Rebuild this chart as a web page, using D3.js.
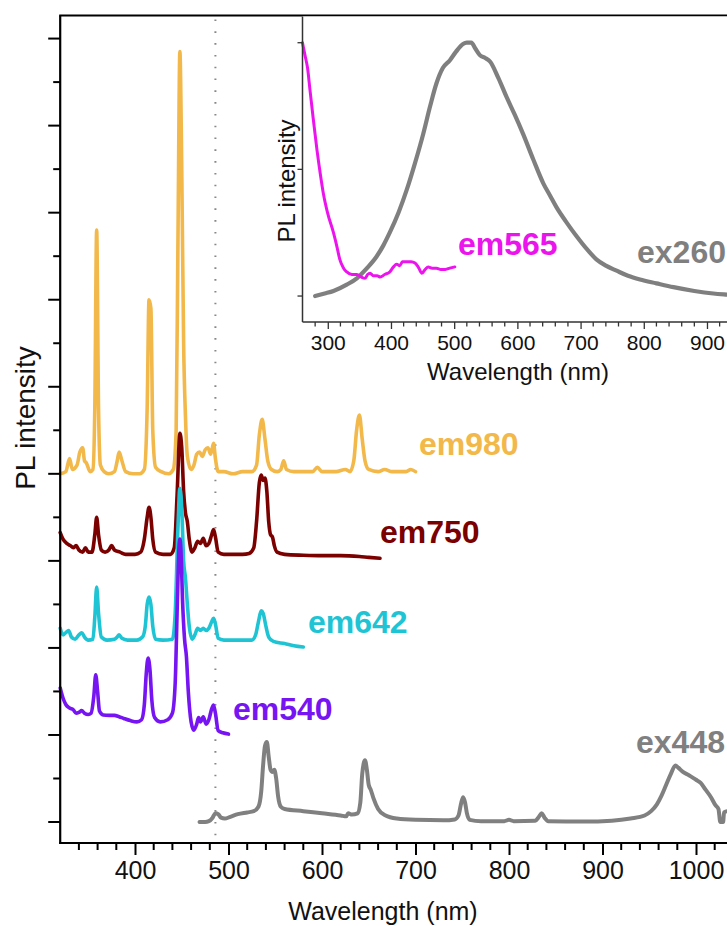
<!DOCTYPE html>
<html><head><meta charset="utf-8">
<script src="https://cdn.jsdelivr.net/npm/d3@7"></script>
<style>html,body{margin:0;padding:0;background:#fff;overflow:hidden}</style>
</head><body>
<script>
// ---------- DATA ----------
const xTickValues = [400, 500, 600, 700, 800, 900, 1000];
const insetXTickValues = [300, 400, 500, 600, 700, 800, 900];
const insetYTickValues = [0, 1, 2];
const dottedLineNm = 486;

const seriesNames = ["ex448", "em980", "em750", "em642", "em540"];

const ex448 = [[469,0.0],[475,0.0],[479,0.02],[483,0.1],[486,0.2],[489,0.18],[492,0.1],[496,0.08],[502,0.12],[510,0.18],[520,0.22],[527,0.25],[532,0.35],[535,0.7],[537,1.3],[539,1.75],[541,1.84],[543,1.5],[545,1.2],[547,1.15],[549,1.2],[551,1.0],[553,0.6],[556,0.35],[560,0.3],[580,0.25],[600,0.2],[620,0.15],[626,0.13],[628,0.2],[632,0.17],[638,0.2],[641,0.45],[643,1.1],[646,1.42],[648,1.2],[650,0.85],[652,0.75],[655,0.55],[660,0.3],[668,0.15],[680,0.08],[700,0.05],[730,0.04],[742,0.06],[746,0.15],[749,0.45],[751,0.57],[753,0.45],[755,0.2],[758,0.05],[770,0.02],[795,0.02],[800,0.05],[805,0.02],[828,0.03],[832,0.12],[835,0.2],[838,0.1],[842,0.02],[880,0.01],[910,0.03],[930,0.08],[945,0.15],[952,0.25],[958,0.4],[963,0.6],[968,0.85],[973,1.1],[978,1.3],[981,1.25],[986,1.15],[992,1.08],[1000,0.97],[1005,0.9],[1010,0.75],[1016,0.57],[1021,0.38],[1024,0.3],[1026,0.0],[1029,0.0],[1030,0.22],[1034,0.25],[1040,0.25]];

const em980 = [[320,8.0],[326,8.05],[330,8.35],[333,8.1],[338,8.2],[341,8.5],[344,8.6],[346,8.3],[348,8.25],[352,8.05],[355,8.1],[357,9.5],[359,13.6],[361,9.5],[363,8.2],[367,8.05],[372,8.0],[378,8.05],[381,8.3],[383,8.5],[386,8.3],[390,8.05],[398,8.0],[405,8.0],[410,8.1],[413,9.5],[415,12.0],[417,11.8],[419,9.0],[422,8.15],[428,8.05],[436,8.0],[441,8.1],[444,9.0],[446,13.5],[448,17.7],[450,15.0],[452,11.0],[454,9.3],[456,8.4],[460,8.1],[463,8.2],[466,8.45],[469,8.5],[472,8.4],[475,8.55],[478,8.6],[481,8.45],[484,8.7],[486,8.35],[489,8.05],[495,8.05],[505,8.0],[515,8.05],[525,8.05],[530,8.2],[533,8.9],[536,9.25],[539,8.8],[542,8.3],[546,8.1],[552,8.05],[556,8.1],[559,8.3],[562,8.1],[570,8.05],[580,8.05],[590,8.05],[595,8.15],[600,8.05],[615,8.05],[625,8.1],[630,8.05],[634,8.3],[637,9.0],[640,9.35],[643,8.8],[646,8.3],[650,8.1],[660,8.05],[667,8.1],[675,8.05],[690,8.05],[695,8.1],[700,8.05]];

const em750 = [[320,6.65],[323,6.5],[327,6.4],[331,6.35],[334,6.3],[337,6.35],[340,6.25],[344,6.2],[347,6.3],[350,6.2],[354,6.2],[357,6.6],[359,7.0],[361,6.6],[364,6.25],[368,6.2],[372,6.25],[375,6.35],[378,6.25],[384,6.2],[390,6.15],[400,6.15],[406,6.2],[410,6.5],[413,7.0],[415,7.23],[417,7.0],[419,6.5],[422,6.2],[430,6.15],[438,6.15],[442,6.3],[445,7.5],[448,8.93],[450,8.6],[452,7.6],[454,7.1],[456,6.9],[458,6.5],[461,6.2],[464,6.3],[467,6.45],[470,6.4],[473,6.52],[476,6.35],[479,6.4],[482,6.6],[484,6.72],[486,6.55],[489,6.2],[495,6.15],[505,6.15],[515,6.15],[522,6.17],[527,6.3],[530,6.9],[533,7.8],[535,7.97],[537,7.85],[539,7.9],[541,7.6],[543,6.9],[545,6.6],[547,6.55],[549,6.35],[552,6.2],[560,6.15],[580,6.13],[600,6.12],[620,6.12],[640,6.1],[650,6.08],[662,6.06]];

const em642 = [[320,4.45],[323,4.3],[326,4.35],[329,4.4],[332,4.25],[336,4.2],[340,4.3],[343,4.35],[346,4.25],[350,4.18],[355,4.2],[357,4.7],[359,5.4],[361,4.8],[364,4.25],[370,4.18],[378,4.2],[381,4.25],[383,4.3],[386,4.22],[392,4.18],[402,4.18],[408,4.25],[411,4.5],[413,5.0],[415,5.17],[417,5.0],[419,4.5],[422,4.2],[430,4.18],[440,4.2],[443,4.8],[446,6.8],[448,7.67],[450,7.2],[452,6.0],[454,5.6],[456,5.0],[458,4.5],[461,4.2],[464,4.3],[467,4.45],[470,4.4],[473,4.45],[476,4.4],[479,4.45],[482,4.6],[484,4.68],[486,4.55],[489,4.22],[495,4.18],[510,4.18],[525,4.18],[529,4.3],[532,4.6],[535,4.85],[537,4.8],[540,4.5],[543,4.25],[548,4.15],[560,4.1],[570,4.05],[580,4.02]];

const em540 = [[320,3.08],[323,2.85],[326,2.7],[330,2.62],[334,2.58],[337,2.5],[340,2.52],[343,2.56],[346,2.5],[350,2.47],[353,2.5],[356,2.9],[358,3.38],[360,3.0],[362,2.55],[366,2.46],[372,2.45],[378,2.45],[383,2.42],[388,2.38],[395,2.33],[402,2.3],[407,2.35],[410,2.7],[412,3.4],[414,3.77],[416,3.5],[418,2.8],[421,2.4],[427,2.3],[435,2.35],[440,2.5],[443,3.2],[445,4.8],[447,6.3],[448,6.5],[449,6.3],[451,5.0],[453,4.2],[455,3.8],[457,3.0],[460,2.3],[463,2.11],[466,2.25],[468,2.4],[470,2.3],[473,2.42],[476,2.25],[479,2.35],[482,2.6],[484,2.69],[486,2.5],[489,2.1],[494,2.05],[500,2.02]];

const ex260 = [[280,0.0],[295,0.02],[309,0.04],[330,0.09],[346,0.14],[362,0.22],[377,0.31],[388,0.4],[398,0.5],[412,0.66],[425,0.84],[438,1.05],[451,1.28],[462,1.5],[472,1.68],[482,1.8],[493,1.86],[503,1.93],[514,1.99],[520,2.0],[527,2.0],[534,1.95],[541,1.9],[549,1.88],[557,1.85],[570,1.72],[583,1.57],[596,1.43],[609,1.28],[625,1.08],[641,0.89],[652,0.79],[662,0.7],[678,0.58],[694,0.47],[710,0.37],[725,0.29],[740,0.24],[757,0.2],[775,0.16],[794,0.13],[820,0.1],[847,0.07],[880,0.04],[910,0.02],[935,0.01],[960,0.0]];

const em565 = [[260,2.0],[264,1.9],[268,1.8],[272,1.62],[277,1.4],[283,1.15],[288,0.97],[293,0.81],[300,0.65],[309,0.5],[314,0.4],[319,0.29],[325,0.22],[330,0.19],[338,0.17],[346,0.17],[353,0.15],[359,0.14],[363,0.17],[367,0.18],[372,0.16],[378,0.16],[383,0.15],[390,0.17],[398,0.19],[404,0.23],[409,0.25],[414,0.24],[418,0.27],[425,0.27],[432,0.27],[438,0.26],[443,0.23],[449,0.18],[454,0.21],[459,0.23],[465,0.22],[472,0.22],[479,0.21],[486,0.21],[493,0.22],[501,0.23]];

const colors = {ex448:"#808080", em980:"#f2b84a", em750:"#7b0000", em642:"#1fc4d4", em540:"#7614f2", ex260:"#7f7f7f", em565:"#ec14ec"};
const seriesData = {ex448, em980, em750, em642, em540};
const labelText = {ex448:"ex448", em980:"em980", em750:"em750", em642:"em642", em540:"em540"};

// ---------- CHART ----------
const W = 727, H = 926;
const FONT = "'Liberation Sans', Arial, Helvetica, sans-serif";
const svg = d3.select("body").append("svg").attr("width", W).attr("height", H)
  .style("font-family", FONT);

const plotLeft = 60.2, plotTop = 15.5, plotBottom = 843;
const x = d3.scaleLinear().domain([320, 1060]).range([plotLeft, plotLeft + 740 * 0.935]);
const y = d3.scaleLinear().domain([-0.482, 18.53]).range([plotBottom, plotTop]);

// dotted vertical line
svg.append("line")
  .attr("x1", x(dottedLineNm)).attr("x2", x(dottedLineNm))
  .attr("y1", plotTop + 4).attr("y2", plotBottom)
  .attr("stroke", "#888").attr("stroke-width", 2)
  .attr("stroke-dasharray", "1.6,10.2");

const line = d3.line().x(d => x(d[0])).y(d => y(d[1])).curve(d3.curveMonotoneX);

seriesNames.forEach(name => {
  svg.append("path").datum(seriesData[name])
    .attr("d", line).attr("fill", "none")
    .attr("stroke", colors[name])
    .attr("stroke-width", name === "ex448" ? 4 : 3.6)
    .attr("stroke-linejoin", "round").attr("stroke-linecap", "round");
});

// series labels
const labelPos = {em980:[419,455], em750:[380,543], em642:[308,633], em540:[233,720], ex448:[636,753]};
seriesNames.forEach(name => {
  svg.append("text").attr("x", labelPos[name][0]).attr("y", labelPos[name][1])
    .attr("fill", colors[name]).attr("font-size", 32).attr("font-weight", "bold")
    .text(labelText[name]);
});

// main axes
const xAxis = d3.axisBottom(x).tickValues(xTickValues).tickSize(12).tickFormat(d3.format("d"));
const gx = svg.append("g").attr("transform", `translate(0,${plotBottom})`).call(xAxis);
gx.select(".domain").remove();
gx.selectAll(".tick line").attr("stroke", "#000").attr("stroke-width", 2);
gx.selectAll(".tick text").attr("font-size", 25).attr("font-family", FONT).attr("fill", "#111").attr("dy", "0.71em").attr("y", 18);
const minorX = d3.range(340, 1060, 20).filter(v => v % 100 !== 0);
svg.append("g").selectAll("line").data(minorX).join("line")
  .attr("x1", d => x(d)).attr("x2", d => x(d))
  .attr("y1", plotBottom).attr("y2", plotBottom + 7)
  .attr("stroke", "#000").attr("stroke-width", 2);

const yTicks = d3.range(0, 19);
svg.append("g").selectAll("line").data(yTicks).join("line")
  .attr("x1", d => d % 2 === 0 ? plotLeft - 12 : plotLeft - 7).attr("x2", plotLeft)
  .attr("y1", d => y(d)).attr("y2", d => y(d))
  .attr("stroke", "#000").attr("stroke-width", 2);

svg.append("line").attr("x1", plotLeft).attr("x2", plotLeft).attr("y1", plotTop).attr("y2", plotBottom + 1)
  .attr("stroke", "#000").attr("stroke-width", 2.2);
svg.append("line").attr("x1", plotLeft - 1).attr("x2", W + 10).attr("y1", plotBottom).attr("y2", plotBottom)
  .attr("stroke", "#000").attr("stroke-width", 2.2);
svg.append("line").attr("x1", plotLeft - 1).attr("x2", W + 10).attr("y1", plotTop).attr("y2", plotTop)
  .attr("stroke", "#000").attr("stroke-width", 2.2);

svg.append("text").attr("x", 383).attr("y", 920).attr("text-anchor", "middle")
  .attr("font-size", 25).attr("fill", "#111").text("Wavelength (nm)");
svg.append("text").attr("transform", "translate(35,418) rotate(-90)").attr("text-anchor", "middle")
  .attr("font-size", 28).attr("fill", "#111").text("PL intensity");

// ---------- INSET ----------
const iLeft = 302.5, iTop = plotTop + 1, iBottom = 322;
const xi = d3.scaleLinear().domain([260, 1000]).range([iLeft, iLeft + 740 * 0.632]);
const yi = d3.scaleLinear().domain([-0.205, 2.207]).range([iBottom, iTop]);

svg.append("rect").attr("x", iLeft).attr("y", iTop).attr("width", W - iLeft + 5).attr("height", iBottom - iTop).attr("fill", "#fff");

const iline = d3.line().x(d => xi(d[0])).y(d => yi(d[1])).curve(d3.curveMonotoneX);
svg.append("path").datum(ex260).attr("d", iline).attr("fill", "none")
  .attr("stroke", colors.ex260).attr("stroke-width", 4.2).attr("stroke-linejoin", "round").attr("stroke-linecap", "round");
svg.append("path").datum(em565).attr("d", iline).attr("fill", "none")
  .attr("stroke", colors.em565).attr("stroke-width", 3).attr("stroke-linejoin", "round").attr("stroke-linecap", "round");

svg.append("text").attr("x", 458).attr("y", 255).attr("fill", colors.em565)
  .attr("font-size", 32).attr("font-weight", "bold").text("em565");
svg.append("text").attr("x", 637).attr("y", 263).attr("fill", colors.ex260)
  .attr("font-size", 32).attr("font-weight", "bold").text("ex260");

const gxi = svg.append("g").attr("transform", `translate(0,${iBottom})`)
  .call(d3.axisBottom(xi).tickValues(insetXTickValues).tickSize(7).tickFormat(d3.format("d")));
gxi.select(".domain").remove();
gxi.selectAll(".tick line").attr("stroke", "#333").attr("stroke-width", 1.3);
gxi.selectAll(".tick text").attr("font-size", 21).attr("font-family", FONT).attr("fill", "#111").attr("y", 13);
const minorXi = d3.range(280, 1000, 20).filter(v => v % 100 !== 0);
svg.append("g").selectAll("line").data(minorXi).join("line")
  .attr("x1", d => xi(d)).attr("x2", d => xi(d))
  .attr("y1", iBottom).attr("y2", iBottom + 4.5)
  .attr("stroke", "#333").attr("stroke-width", 1.3);
svg.append("g").selectAll("line").data(insetYTickValues).join("line")
  .attr("x1", iLeft - 5).attr("x2", iLeft)
  .attr("y1", d => yi(d)).attr("y2", d => yi(d))
  .attr("stroke", "#333").attr("stroke-width", 1.3);
svg.append("line").attr("x1", iLeft).attr("x2", iLeft).attr("y1", iTop).attr("y2", iBottom)
  .attr("stroke", "#333").attr("stroke-width", 1.5);
svg.append("line").attr("x1", iLeft).attr("x2", W + 10).attr("y1", iBottom).attr("y2", iBottom)
  .attr("stroke", "#333").attr("stroke-width", 1.5);

svg.append("text").attr("x", 518).attr("y", 380).attr("text-anchor", "middle")
  .attr("font-size", 24).attr("fill", "#111").text("Wavelength (nm)");
svg.append("text").attr("transform", "translate(295,181) rotate(-90)").attr("text-anchor", "middle")
  .attr("font-size", 24).attr("fill", "#111").text("PL intensity");
</script>
</body></html>
